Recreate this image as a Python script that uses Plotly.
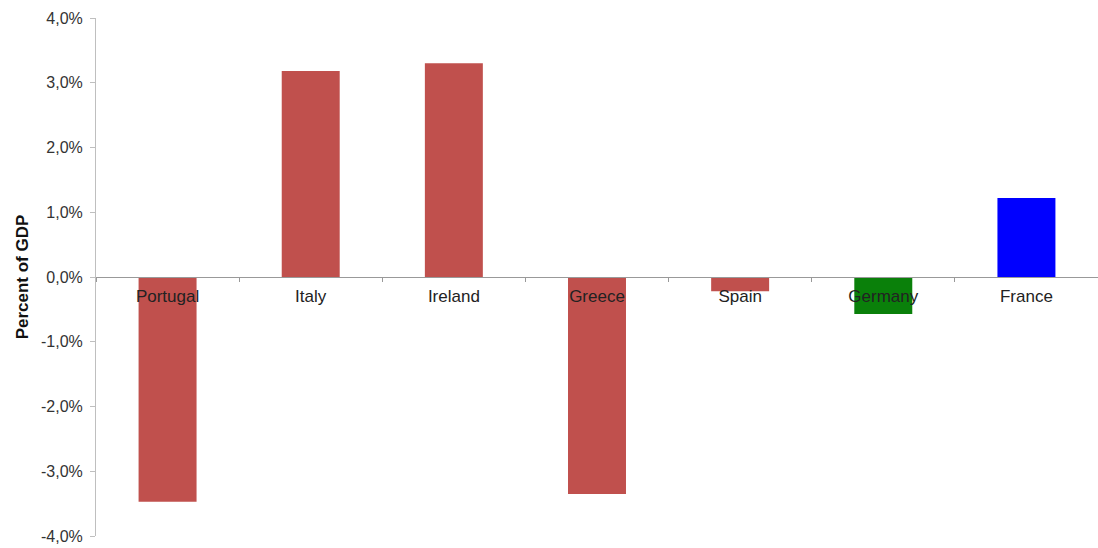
import plotly.graph_objects as go

countries = ["Portugal", "Italy", "Ireland", "Greece", "Spain", "Germany", "France"]
values = [-3.47, 3.18, 3.30, -3.35, -0.22, -0.57, 1.22]
colors = ["#C0504D", "#C0504D", "#C0504D", "#C0504D", "#C0504D", "#0A800A", "#0000FF"]
y_ticks = [-4, -3, -2, -1, 0, 1, 2, 3, 4]
y_tick_text = [f"{v:.1f}%".replace(".", ",") for v in y_ticks]

fig = go.Figure(go.Bar(x=countries, y=values, marker=dict(color=colors, line=dict(width=0)), width=0.405))

fig.update_layout(
    width=1098, height=548,
    margin=dict(l=96, r=0, t=18, b=12),
    paper_bgcolor="white", plot_bgcolor="white",
    showlegend=False,
    font=dict(family="Liberation Sans, Arial, sans-serif", size=16, color="#222222"),
)
fig.update_yaxes(
    range=[-4, 4], tickvals=y_ticks, ticktext=y_tick_text,
    showgrid=False, zeroline=False,
    showline=True, linecolor="#BFBFBF", linewidth=1,
    ticks="outside", ticklen=5, tickcolor="#BFBFBF",
    ticklabelstandoff=4,
    tickfont=dict(size=16, color="#333333"),
    title=dict(text="<b>Percent of GDP</b>", font=dict(size=17, color="#111111"), standoff=8),
)
fig.update_xaxes(
    anchor="free", position=0.5,
    showgrid=False, zeroline=False,
    showline=True, linecolor="#999999", linewidth=1,
    ticks="outside", tickson="boundaries", ticklen=4, tickcolor="#999999",
    tickfont=dict(size=17, color="#222222"),
    ticklabelstandoff=4,
    range=[-0.5, 6.5],
)

fig.write_html("out.html")
